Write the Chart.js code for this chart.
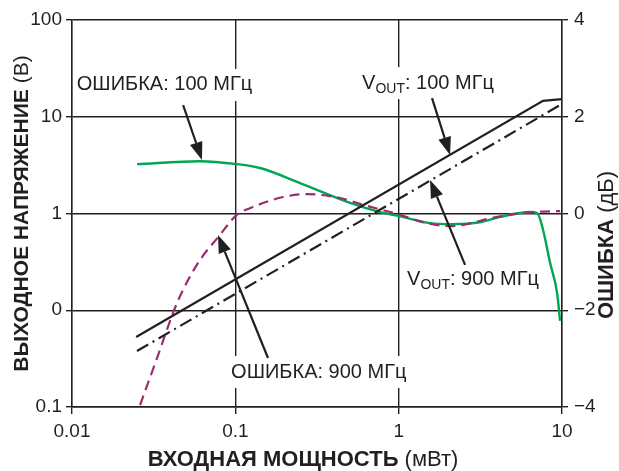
<!DOCTYPE html>
<html lang="ru">
<head>
  <meta charset="UTF-8" />
  <title>Выходное напряжение и ошибка</title>
  <script src="https://cdn.jsdelivr.net/npm/chart.js"></script>
  <style>
    html, body { margin: 0; padding: 0; background: #fff; }
    canvas { display: block; }
  </style>
</head>
<body>
  <canvas id="grafico" width="619" height="471"></canvas>

  <script>
    // шкалы
    const xTicks = [0.01, 0.1, 1, 10];
    const xTickLabels = ['0.01', '0.1', '1', '10'];
    const leftTicks = [0.01, 0.1, 1, 10, 100];
    const leftTickLabels = ['0.1', '0', '1', '10', '100'];
    const rightTicks = [-4, -2, 0, 2, 4];
    const rightTickLabels = ['\u22124', '\u22122', '0', '2', '4'];

    // V_OUT, В (левая ось)
    const vout100X = [0.0247, 7.65, 10];
    const vout100Y = [0.0529, 14.6, 15.2];
    const vout900X = [0.025, 9.73];
    const vout900Y = [0.0379, 13.2];

    // ошибка, дБ (правая ось)
    const err100X = [0.025, 0.0608, 0.102, 0.1416, 0.249, 0.504, 0.769, 1.0, 1.56, 2.15, 3.15, 4.18, 6.38, 7.05, 7.66, 8.45, 9.33, 9.73];
    const err100Y = [1.02, 1.08, 1.02, 0.94, 0.63, 0.22, 0.03, -0.05, -0.2, -0.22, -0.18, -0.07, 0.03, 0.01, -0.34, -1.02, -1.64, -2.22];
    const err900X = [0.0261, 0.0337, 0.0415, 0.0478, 0.0608, 0.0784, 0.102, 0.123, 0.196, 0.275, 0.438, 0.605, 0.977, 1.49, 2.07, 4.01, 6.66, 9.73];
    const err900Y = [-3.96, -2.92, -2.06, -1.58, -0.96, -0.49, -0.03, 0.11, 0.34, 0.40, 0.32, 0.18, -0.01, -0.20, -0.26, -0.07, 0.03, 0.05];

    const ink = '#231f20';
    const family = '"Liberation Sans", Arial, sans-serif';

    function puntos(xs, ys) {
      return xs.map((x, i) => ({ x: x, y: ys[i] }));
    }

    // подписи на графике (координаты в единицах осей x и левой y)
    const notas = [
      { x: 0.0107, y: 21.3, parts: [['ОШИБКА: 100 МГц', 'n']] },
      { x: 0.597, y: 22.3, parts: [['V', 'n'], ['OUT', 's'], [': 100 МГц', 'n']] },
      { x: 1.126, y: 0.2056, parts: [['V', 'n'], ['OUT', 's'], [': 900 МГц', 'n']] },
      { x: 0.0942, y: 0.023, parts: [['ОШИБКА: 900 МГц', 'n']] }
    ];
    const flechas = [
      { from: [0.0479, 13.2], to: [0.0625, 3.57] },
      { from: [1.60, 15.6], to: [2.064, 4.02] },
      { from: [2.55, 0.294], to: [1.557, 2.22] },
      { from: [0.1585, 0.0321], to: [0.0783, 0.600] }
    ];

    function fuente(tipo, size) {
      if (tipo === 'b') return 'bold ' + size + 'px ' + family;
      if (tipo === 's') return Math.round(size * 0.7) + 'px ' + family;
      return size + 'px ' + family;
    }

    function anchoRico(ctx, parts, size) {
      let w = 0;
      parts.forEach(p => {
        ctx.font = fuente(p[1], size);
        w += ctx.measureText(p[0]).width;
      });
      return w;
    }

    function textoRico(ctx, parts, x, y, size) {
      ctx.textBaseline = 'middle';
      ctx.textAlign = 'left';
      parts.forEach(p => {
        ctx.font = fuente(p[1], size);
        const dy = p[1] === 's' ? size * 0.28 : 0;
        ctx.fillText(p[0], x, y + dy);
        x += ctx.measureText(p[0]).width;
      });
    }

    const extras = {
      id: 'extras',
      afterDatasetsDraw(chart) {
        const ctx = chart.ctx;
        const sx = chart.scales.x;
        const sy = chart.scales.y;
        ctx.save();
        ctx.fillStyle = ink;
        ctx.strokeStyle = ink;

        notas.forEach(n => {
          const px = sx.getPixelForValue(n.x);
          const py = sy.getPixelForValue(n.y);
          const w = anchoRico(ctx, n.parts, 20);
          ctx.fillStyle = '#fff';
          ctx.fillRect(px - 3, py - 16, w + 6, 32);
          ctx.fillStyle = ink;
          textoRico(ctx, n.parts, px, py, 20);
        });

        flechas.forEach(f => {
          const x1 = sx.getPixelForValue(f.from[0]);
          const y1 = sy.getPixelForValue(f.from[1]);
          const x2 = sx.getPixelForValue(f.to[0]);
          const y2 = sy.getPixelForValue(f.to[1]);
          const a = Math.atan2(y2 - y1, x2 - x1);
          const largo = 18, ancho = 6.5;
          const bx = x2 - largo * Math.cos(a);
          const by = y2 - largo * Math.sin(a);
          ctx.lineWidth = 2.2;
          ctx.beginPath();
          ctx.moveTo(x1, y1);
          ctx.lineTo(bx, by);
          ctx.stroke();
          ctx.beginPath();
          ctx.moveTo(x2, y2);
          ctx.lineTo(bx + ancho * Math.sin(a), by - ancho * Math.cos(a));
          ctx.lineTo(bx - ancho * Math.sin(a), by + ancho * Math.cos(a));
          ctx.closePath();
          ctx.fill();
        });

        // названия осей
        const ca = chart.chartArea;
        const tx = [['ВХОДНАЯ МОЩНОСТЬ', 'b'], [' (мВт)', 'n']];
        let w = anchoRico(ctx, tx, 22);
        textoRico(ctx, tx, 303 - w / 2, 460, 22);

        const ty = [['ВЫХОДНОЕ НАПРЯЖЕНИЕ', 'b'], [' (В)', 'n']];
        w = anchoRico(ctx, ty, 21);
        ctx.save();
        ctx.translate(22, (ca.top + ca.bottom) / 2);
        ctx.rotate(-Math.PI / 2);
        textoRico(ctx, ty, -w / 2, 0, 21);
        ctx.restore();

        const tr = [['ОШИБКА', 'b'], [' (дБ)', 'n']];
        w = anchoRico(ctx, tr, 22);
        ctx.save();
        ctx.translate(607, 245);
        ctx.rotate(-Math.PI / 2);
        textoRico(ctx, tr, -w / 2, 0, 22);
        ctx.restore();

        ctx.restore();
      }
    };

    const tickFont = { size: 19, family: family };

    new Chart(document.getElementById('grafico'), {
      type: 'line',
      data: {
        datasets: [
          {
            label: 'V_OUT 100 МГц',
            data: puntos(vout100X, vout100Y),
            yAxisID: 'y',
            borderColor: ink,
            borderWidth: 2.2,
            pointRadius: 0,
            order: 0
          },
          {
            label: 'V_OUT 900 МГц',
            data: puntos(vout900X, vout900Y),
            yAxisID: 'y',
            borderColor: ink,
            borderWidth: 2.2,
            borderDash: [13, 5, 2, 5],
            pointRadius: 0,
            order: 1
          },
          {
            label: 'Ошибка 900 МГц',
            data: puntos(err900X, err900Y),
            yAxisID: 'y1',
            borderColor: '#9b2d6e',
            borderWidth: 2.2,
            borderDash: [10, 6],
            pointRadius: 0,
            cubicInterpolationMode: 'monotone',
            order: 2
          },
          {
            label: 'Ошибка 100 МГц',
            data: puntos(err100X, err100Y),
            yAxisID: 'y1',
            borderColor: '#00a651',
            borderWidth: 2.4,
            pointRadius: 0,
            cubicInterpolationMode: 'monotone',
            order: 3
          }
        ]
      },
      options: {
        responsive: false,
        animation: false,
        layout: { padding: { top: 20, left: 0, right: 0, bottom: 0 } },
        plugins: {
          legend: { display: false },
          tooltip: { enabled: false }
        },
        scales: {
          x: {
            type: 'logarithmic',
            min: 0.01,
            max: 10,
            afterBuildTicks: s => { s.ticks = xTicks.map(v => ({ value: v })); },
            afterFit: s => { s.height = 64; },
            ticks: {
              autoSkip: false,
              maxRotation: 0,
              color: ink,
              font: tickFont,
              padding: 6,
              callback: (v, i) => xTickLabels[i]
            },
            grid: { color: ink, lineWidth: 1.4, tickLength: 7 },
            border: { color: ink, width: 1.4 }
          },
          y: {
            type: 'logarithmic',
            position: 'left',
            min: 0.01,
            max: 100,
            afterBuildTicks: s => { s.ticks = leftTicks.map(v => ({ value: v })); },
            afterFit: s => { s.width = 72; },
            ticks: {
              autoSkip: false,
              color: ink,
              font: tickFont,
              padding: 4,
              callback: (v, i) => leftTickLabels[i]
            },
            grid: { color: ink, lineWidth: 1.4, tickLength: 6 },
            border: { color: ink, width: 1.4 }
          },
          y1: {
            type: 'linear',
            position: 'right',
            min: -4,
            max: 4,
            afterBuildTicks: s => { s.ticks = rightTicks.map(v => ({ value: v })); },
            afterFit: s => { s.width = 57; },
            ticks: {
              autoSkip: false,
              color: ink,
              font: tickFont,
              padding: 6,
              callback: (v, i) => rightTickLabels[i]
            },
            grid: { drawOnChartArea: false, color: ink, lineWidth: 1.4, tickLength: 6 },
            border: { color: ink, width: 1.4 }
          }
        }
      },
      plugins: [extras]
    });
  </script>
</body>
</html>
